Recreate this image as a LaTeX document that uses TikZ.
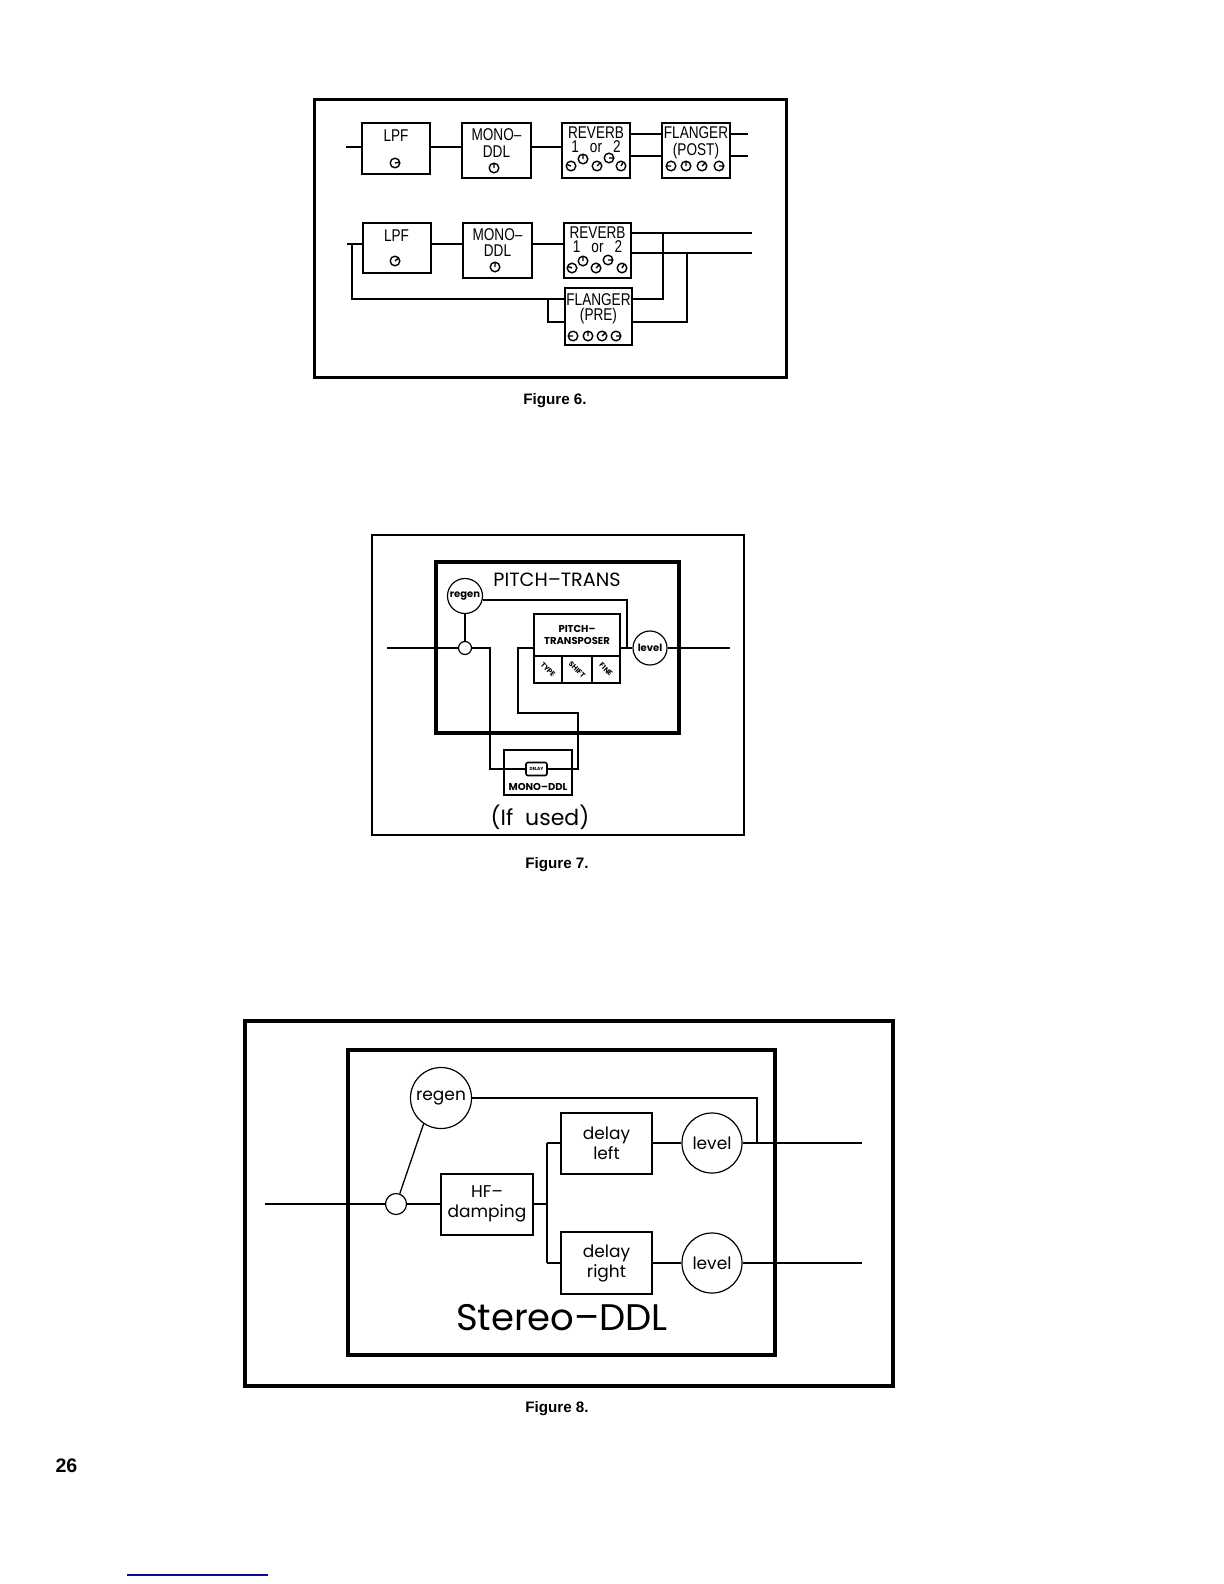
\documentclass[tikz,border=0pt]{standalone}
\usepackage{fontspec}
\setmainfont{Liberation Sans}
\newfontfamily\narrowf{Liberation Sans}
\newfontfamily\geof{Poppins}
\definecolor{linkblue}{RGB}{10,10,160}
\newcommand\knb[3]{\draw[knobline] (#1,#2) circle[radius=4.8] (#1,#2) -- ++(#3:4.8);}
\begin{document}
\begin{tikzpicture}[x=0.5pt,y=-0.5pt,
  wire/.style={line width=0.65pt},
  box6/.style={draw,line width=1pt,inner sep=0pt},
  frame/.style={draw,line width=1.5pt},
  t6/.style={font=\narrowf\fontsize{8.5}{9}\selectfont,inner sep=0pt,xscale=0.8},
  knobline/.style={line width=0.7pt},
  figcap/.style={font=\bfseries\fontsize{7.6}{9}\selectfont,inner sep=0pt},
  ring/.style={draw,circle,inner sep=0pt,line width=0.6pt},
  t7/.style={font=\geof\bfseries\fontsize{5}{6}\selectfont,inner sep=0pt,align=center},
  box7/.style={draw,line width=1pt,inner sep=0pt},
  box8/.style={draw,line width=1pt,inner sep=0pt,align=center,font=\geof\fontsize{8.5}{10}\selectfont},
  t8/.style={font=\geof\fontsize{8.5}{10}\selectfont,align=center},
]
\fill[white] (0,0) rectangle (1224,1584);
\useasboundingbox (0,0) rectangle (1224,1584);

% ================= Figure 6 =================
\draw[frame] (314,100) rectangle (786,377);
% row 1
\coordinate (a0) at (346,147);
\coordinate (yA) at (0,147);
\coordinate (yA1) at (0,134);
\coordinate (yA2) at (0,156);
\node[box6,minimum width=34pt,minimum height=25.5pt] (lpfA) at (396,148.5) {};
\node[t6] (lpfAt) at (396,136) {LPF};
\node[box6,minimum width=34.5pt,minimum height=27.5pt] (monoA) at (496.5,150.5) {};
\node[t6] (monoAt1) at (496.5,135) {MONO–};
\node[t6] (monoAt2) at (496.5,152) {DDL};
\node[box6,minimum width=34pt,minimum height=27.5pt] (revA) at (596,150.5) {};
\node[t6] (revAt1) at (596,133) {REVERB};
\node[t6] (revAt2) at (596,147) {1\hspace{4.5pt} or\hspace{4.5pt} 2};
\node[box6,minimum width=34pt,minimum height=27.5pt] (flA) at (696,150.5) {};
\node[t6] (flAt1) at (696,133) {FLANGER};
\node[t6] (flAt2) at (696,151) {(POST)};
\draw[wire] (a0) -- (lpfA.west |- yA);
\draw[wire] (lpfA.east |- yA) -- (monoA.west |- yA);
\draw[wire] (monoA.east |- yA) -- (revA.west |- yA);
\draw[wire] (revA.east |- yA1) -- (flA.west |- yA1);
\draw[wire] (revA.east |- yA2) -- (flA.west |- yA2);
\coordinate (oA1) at (748,134);
\coordinate (oA2) at (748,156);
\draw[wire] (flA.east |- oA1) -- (oA1);
\draw[wire] (flA.east |- oA2) -- (oA2);
\knb{395}{163}{-10}
\knb{494}{168}{-90}
\knb{571}{166}{-160}
\knb{583}{159}{-90}
\knb{597}{166}{-45}
\knb{609}{158}{0}
\knb{621}{166}{-60}
\knb{671}{166}{180}
\knb{686}{166}{-90}
\knb{702}{166}{-45}
\knb{719}{166}{0}
% row 2
\coordinate (b0) at (347,244);
\coordinate (bj) at (352,244);
\coordinate (yB) at (0,244);
\coordinate (yB1) at (0,233);
\coordinate (yB2) at (0,253);
\coordinate (yF1) at (0,299);
\coordinate (yF2) at (0,322);
\node[box6,minimum width=34pt,minimum height=25pt] (lpfB) at (396.5,248) {};
\node[t6] (lpfBt) at (396.5,236) {LPF};
\node[box6,minimum width=34.5pt,minimum height=27.5pt] (monoB) at (497.5,250.5) {};
\node[t6] (monoBt1) at (497.5,235) {MONO–};
\node[t6] (monoBt2) at (497.5,251) {DDL};
\node[box6,minimum width=33.5pt,minimum height=27.5pt] (revB) at (597.5,250.5) {};
\node[t6] (revBt1) at (597.5,233) {REVERB};
\node[t6] (revBt2) at (597.5,247) {1\hspace{4.5pt} or\hspace{4.5pt} 2};
\node[box6,minimum width=33.5pt,minimum height=28.5pt] (flB) at (598.5,316.5) {};
\node[t6] (flBt1) at (598.5,300) {FLANGER};
\node[t6] (flBt2) at (598.5,316) {(PRE)};
\draw[wire] (b0) -- (lpfB.west |- yB);
\draw[wire] (lpfB.east |- yB) -- (monoB.west |- yB);
\draw[wire] (monoB.east |- yB) -- (revB.west |- yB);
\coordinate (oB1) at (752,233);
\coordinate (oB2) at (752,253);
\draw[wire] (revB.east |- yB1) -- (oB1);
\draw[wire] (revB.east |- yB2) -- (oB2);
\draw[wire] (bj) |- (flB.west |- yF1);
\coordinate (lp) at (548,299);
\draw[wire] (lp) |- (flB.west |- yF2);
\coordinate (v1) at (663,233);
\coordinate (v2) at (687,253);
\draw[wire] (flB.east |- yF1) -| (v1);
\draw[wire] (flB.east |- yF2) -| (v2);
\knb{395}{261}{-40}
\knb{495}{267}{-90}
\knb{572}{268}{-160}
\knb{583}{261}{-90}
\knb{596}{268}{-45}
\knb{608}{260}{0}
\knb{622}{268}{-60}
\knb{573}{336}{180}
\knb{588}{336}{-90}
\knb{602}{336}{-45}
\knb{616}{336}{0}
\node[figcap] (cap6) at (555,401) {Figure 6.};

% ================= Figure 7 =================
\draw[line width=1.2pt] (372,535) rectangle (744,835);
\draw[line width=2pt] (436,562) rectangle (679,733);
\node[font=\geof\fontsize{9.6}{11}\selectfont,inner sep=0pt] (pttl) at (557,580) {PITCH–TRANS};
\node[ring,minimum size=17.5pt,t7] (regen7) at (465,596) {regen};
\node[ring,minimum size=6.5pt] (sm7) at (465,648) {};
\node[box7,minimum width=43pt,minimum height=21pt,t7] (ptx) at (577,635) {PITCH–\\TRANSPOSER};
\node[box7,minimum width=14pt,minimum height=13.5pt] (ctype) at (548,669.5) {};
\node[box7,minimum width=15pt,minimum height=13.5pt] (cshift) at (577,669.5) {};
\node[box7,minimum width=14pt,minimum height=13.5pt] (cfine) at (606,669.5) {};
\node[t7,font=\geof\bfseries\fontsize{3.6}{4}\selectfont,rotate=-45] (ttype) at (ctype) {TYPE};
\node[t7,font=\geof\bfseries\fontsize{3.6}{4}\selectfont,rotate=-45] (tshift) at (cshift) {SHIFT};
\node[t7,font=\geof\bfseries\fontsize{3.6}{4}\selectfont,rotate=-45] (tfine) at (cfine) {FINE};
\node[ring,minimum size=17pt,t7] (lvl7) at (650,648) {level};
\node[box7,minimum width=34pt,minimum height=22.5pt] (mono7) at (538,772.5) {};
\node[draw,rounded corners=1pt,line width=0.8pt,minimum width=10.5pt,minimum height=6.5pt,inner sep=0pt,font=\geof\bfseries\fontsize{2.2}{3}\selectfont] (dly) at (536.5,769) {DELAY};
\node[t7] (mono7t) at (538,787) {MONO–DDL};
\node[font=\geof\fontsize{11}{13}\selectfont,inner sep=0pt] (ifu) at (540,817) {(If\hspace{3pt} used)};
\coordinate (i7) at (387,648);
\draw[wire] (i7) -- (sm7.west);
\draw[wire] (sm7.north) -- (regen7.south);
\coordinate (r7b) at (627,648);
\draw[wire] (regen7.-13) -| (r7b);
\draw[wire] (ptx.east |- lvl7) -- (lvl7.west);
\coordinate (o7) at (730,648);
\draw[wire] (lvl7.east) -- (o7);
\coordinate (k1) at (490,769);
\draw[wire] (sm7.east) -| (k1) -- (dly.west);
\coordinate (k2) at (578,713);
\coordinate (k3) at (518,648);
\draw[wire] (dly.east) -| (k2) -| (k3) -- (ptx.west |- k3);
\node[figcap] (cap7) at (557,865) {Figure 7.};

% ================= Figure 8 =================
\draw[line width=1.7pt] (245,1021) rectangle (893,1386);
\draw[line width=2pt] (348,1050) rectangle (775,1355);
\node[ring,minimum size=30.5pt,t8] (regen8) at (441,1098) {regen};
\node[ring,minimum size=10.5pt] (sm8) at (396,1204) {};
\node[box8,minimum width=46pt,minimum height=30.5pt] (hf) at (487,1204) {HF–\\damping};
\node[box8,minimum width=45.5pt,minimum height=30.5pt] (dl) at (606.5,1143) {delay\\left};
\node[box8,minimum width=45.5pt,minimum height=31pt] (dr) at (606.5,1263) {delay\\right};
\node[ring,minimum size=30pt,t8] (lvL) at (712,1143) {level};
\node[ring,minimum size=30pt,t8] (lvR) at (712,1263) {level};
\coordinate (i8) at (265,1204);
\draw[wire] (i8) -- (sm8.west);
\draw[wire] (sm8.east) -- (hf.west |- sm8);
\draw[wire] (regen8.236) -- (sm8.70);
\coordinate (rg8) at (757,1143);
\draw[wire] (regen8.east) -| (rg8);
\coordinate (sp8) at (547,1204);
\coordinate (sp8a) at (547,1143);
\coordinate (sp8b) at (547,1263);
\draw[wire] (hf.east |- sp8) -- (sp8);
\draw[wire] (sp8a) -- (sp8b);
\draw[wire] (sp8a) -- (dl.west |- sp8a);
\draw[wire] (sp8b) -- (dr.west |- sp8b);
\draw[wire] (dl.east |- lvL) -- (lvL.west);
\draw[wire] (dr.east |- lvR) -- (lvR.west);
\coordinate (o8a) at (862,1143);
\coordinate (o8b) at (862,1263);
\draw[wire] (lvL.east) -- (o8a);
\draw[wire] (lvR.east) -- (o8b);
\node[font=\geof\fontsize{18.5}{22}\selectfont,inner sep=0pt] (st8) at (562,1318) {Stereo–DDL};
\node[figcap] (cap8) at (557,1409) {Figure 8.};

% page number and rule
\node[font=\bfseries\fontsize{9.8}{11}\selectfont,inner sep=0pt] (pg) at (66.5,1466) {26};
\coordinate (bl1) at (127,1575);
\coordinate (bl2) at (268,1575);
\draw[linkblue,line width=0.7pt] (bl1) -- (bl2);
\end{tikzpicture}
\end{document}
